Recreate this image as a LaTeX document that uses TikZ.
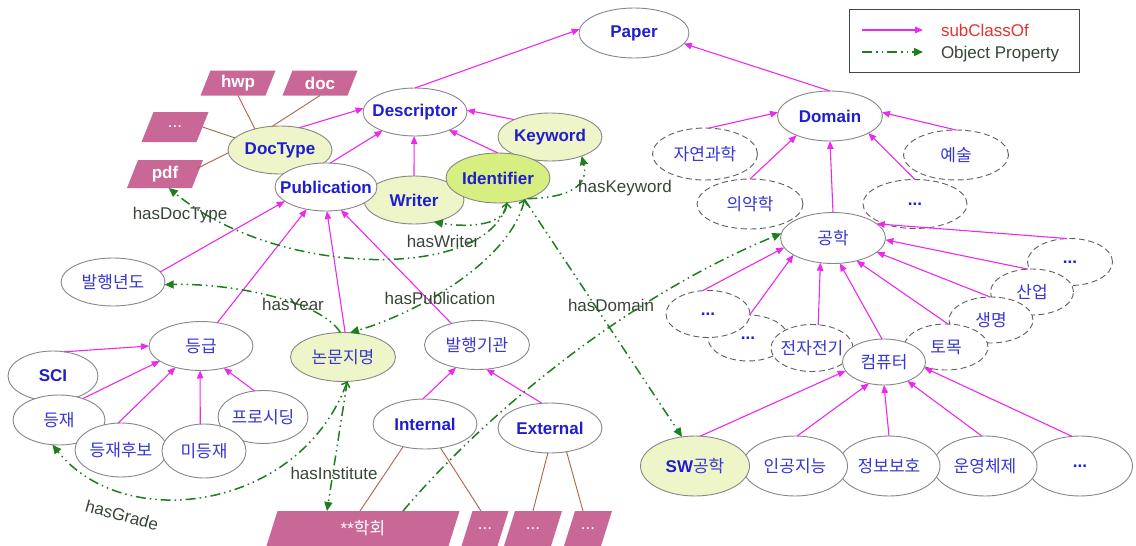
\documentclass[tikz,border=0pt]{standalone}
\usepackage{fontspec}
\setmainfont{Liberation Sans}
\newfontfamily\kr{Noto Sans CJK KR}
\usetikzlibrary{shapes.geometric,arrows.meta}
\definecolor{nodeblue}{RGB}{30,30,205}
\definecolor{koblue}{RGB}{55,55,210}
\definecolor{elgray}{RGB}{135,135,135}
\definecolor{dashgray}{RGB}{95,95,95}
\definecolor{yel}{RGB}{238,245,200}
\definecolor{idyel}{RGB}{214,239,128}
\definecolor{mag}{RGB}{238,40,238}
\definecolor{grn}{RGB}{30,125,30}
\definecolor{lblc}{RGB}{55,70,55}
\definecolor{pinkbox}{RGB}{201,104,150}
\definecolor{brownl}{RGB}{170,100,70}
\definecolor{legred}{RGB}{230,50,50}
\definecolor{leggray}{RGB}{70,70,70}
\newcommand{\mz}[1]{\makebox[0pt]{#1}}
% parallelogram: name, x, y, total width, height, slant, text
\newcommand{\pgram}[7]{%
  \fill[pinkbox] ({#2-#4/2},{#3+#5/2}) -- ({#2+#4/2-#6},{#3+#5/2}) -- ({#2+#4/2},{#3-#5/2}) -- ({#2-#4/2+#6},{#3-#5/2}) -- cycle;
  \node[ptext, minimum width=#4pt-#6pt, minimum height=#5pt] (#1) at (#2,#3) {\mz{#7}};}
\begin{document}
\begin{tikzpicture}[x=1pt,y=-1pt,
 every node/.style={inner sep=0pt,outer sep=0pt},
 elbase/.style={ellipse, draw=elgray, line width=0.9pt, fill=white},
 en/.style={elbase, font=\fontsize{17}{20}\selectfont\bfseries, text=nodeblue},
 ko/.style={elbase, font=\fontsize{17}{20}\selectfont\kr, text=koblue},
 dsh/.style={dash pattern=on 6pt off 3.5pt, draw=dashgray},
 yl/.style={fill=yel},
 sz/.style 2 args={minimum width=#1pt, minimum height=#2pt},
 ptext/.style={rectangle, text=white, font=\fontsize{17}{20}\selectfont},
 sub/.style={draw=mag, line width=1.1pt, -{Triangle[length=8pt,width=6.5pt]}},
 obj/.style={draw=grn, line width=1.5pt, dash pattern=on 10pt off 4pt on 1.5pt off 4pt on 1.5pt off 4pt, -{Triangle[length=9pt,width=8pt]}},
 chev/.style={{Straight Barb[length=4pt,width=9pt]}-{Triangle[length=9pt,width=8pt]}},
 brn/.style={draw=brownl, line width=0.9pt},
 lbl/.style={font=\fontsize{17}{20}\selectfont, text=lblc}]
\useasboundingbox (0,0) rectangle (1136,546);

% ---- top / left cluster
\node[en, sz={110}{50}] (paper) at (634,33) {\mz{Paper}};
\node[en, sz={104}{48}] (desc) at (415,112) {\mz{Descriptor}};
\node[en, yl, sz={104}{48}] (kw) at (550,137) {\mz{Keyword}};
\node[en, yl, sz={104}{48}] (doctype) at (280,150) {\mz{DocType}};
\node[en, yl, sz={100}{48}] (writer) at (414,200) {\mz{Writer}};
\node[en, fill=idyel, sz={104}{50}] (ident) at (498,178) {\mz{Identifier}};
\node[en, sz={102}{48}] (pub) at (326,187) {\mz{Publication}};

\pgram{hwp}{238}{83}{75}{25}{10}{\bfseries hwp}
\pgram{doc}{320}{83}{75}{25}{10}{\bfseries doc}
\pgram{dots1}{175}{127}{67}{30}{12}{...}
\pgram{pdf}{165}{174}{76}{28}{11}{\bfseries pdf}

\node[ko, sz={104}{48}] (year) at (113,282) {\mz{발행년도}};
\node[ko, sz={104}{49}] (grade) at (201,346) {\mz{등급}};
\node[en, sz={90}{50}] (sci) at (53,376) {\mz{SCI}};
\node[ko, sz={92}{50}] (reg) at (59,420) {\mz{등재}};
\node[ko, sz={92}{54}] (cand) at (121,450) {\mz{등재후보}};
\node[ko, sz={90}{53}] (proc) at (263,417) {\mz{프로시딩}};
\node[ko, sz={84}{54}] (unreg) at (204,451) {\mz{미등재}};
\node[ko, yl, sz={105}{49}] (journal) at (343,357) {\mz{논문지명}};
\node[ko, sz={105}{49}] (pubinst) at (477,345) {\mz{발행기관}};
\node[en, sz={104}{50}] (internal) at (425,424) {\mz{Internal}};
\node[en, sz={104}{50}] (external) at (550,428) {\mz{External}};

\pgram{soc}{363}{528.5}{193}{35}{11}{**{\kr 학회}}
\pgram{b2}{485}{528.5}{47}{35}{11}{...}
\pgram{b3}{533}{528.5}{58}{35}{11}{...}
\pgram{b4}{588}{528.5}{48}{35}{11}{...}

% ---- right cluster
\node[en, sz={105}{50}] (domain) at (830,116) {\mz{Domain}};
\node[ko, dsh, sz={105}{52}] (nat) at (705,154) {\mz{자연과학}};
\node[ko, dsh, sz={105}{50}] (art) at (956,155) {\mz{예술}};
\node[ko, dsh, sz={106}{50}] (med) at (750,204) {\mz{의약학}};
\node[en, dsh, sz={104}{49}] (dotsR1) at (915,204) {\mz{...}};
\node[ko, sz={105}{51}] (eng) at (833,238) {\mz{공학}};
\node[en, dsh, sz={85}{47}] (dotsR2) at (1070,262) {\mz{...}};
\node[ko, dsh, sz={83}{46}] (ind) at (1032,292) {\mz{산업}};
\node[ko, dsh, sz={84}{46}] (life) at (991,320) {\mz{생명}};
\node[ko, dsh, sz={84}{46}] (civil) at (946,347) {\mz{토목}};
\node[en, dsh, sz={80}{46}] (dotsL2) at (748,338) {\mz{...}};
\node[en, dsh, sz={84}{47}] (dotsL1) at (708,314) {\mz{...}};
\node[ko, dsh, sz={82}{47}] (elec) at (812,348) {\mz{전자전기}};
\node[ko, sz={83}{46}] (comp) at (884,362) {\mz{컴퓨터}};

\node[en, sz={105}{60}] (dotsB) at (1080,466) {\mz{...}};
\node[ko, sz={104}{60}] (os) at (985,466) {\mz{운영체제}};
\node[ko, sz={102}{60}] (sec) at (889,466) {\mz{정보보호}};
\node[ko, sz={105}{60}] (ai) at (795,466) {\mz{인공지능}};
\node[en, yl, sz={109}{60}] (sw) at (695,466) {\mz{SW{\kr\mdseries\color{koblue}공학}}};

% ---- subClassOf
\draw[sub] (desc.north) -- (paper.176);
\draw[sub] (domain.north) -- (paper.-12);
\draw[sub] (doctype.49) -- (desc.176);
\draw[sub] (pub.80) -- (desc.210);
\draw[sub] (writer.north) -- (desc.268);
\draw[sub] (ident.north) -- (desc.-28);
\draw[sub] (kw.154) -- (desc.2);
\draw[sub] (year.12) -- (pub.199);
\draw[sub] (grade.55) -- (pub.229);
\draw[sub] (journal.85) -- (pub.272);
\draw[sub] (pubinst.140) -- (pub.-57);
\draw[sub] (sci.65) -- (grade.west);
\draw[sub] (reg.42) -- (grade.200);
\draw[sub] (cand.96) -- (grade.220);
\draw[sub] (unreg.98) -- (grade.268);
\draw[sub] (proc.108) -- (grade.-44);
\draw[sub] (internal.95) -- (pubinst.227);
\draw[sub] (external.108) -- (pubinst.-69);
\draw[sub] (nat.81) -- (domain.176);
\draw[sub] (med.north) -- (domain.210);
\draw[sub] (eng.north) -- (domain.south);
\draw[sub] (dotsR1.north) -- (domain.-24);
\draw[sub] (art.north) -- (domain.4);
\draw[sub] (dotsR2.97) -- (eng.18);
\draw[sub] (ind.100) -- (eng.-2);
\draw[sub] (life.92) -- (eng.-18);
\draw[sub] (civil.85) -- (eng.-44);
\draw[sub] (comp.95) -- (eng.-75);
\draw[sub] (elec.75) -- (eng.243);
\draw[sub] (dotsL2.86) -- (eng.203);
\draw[sub] (dotsL1.103) -- (eng.191);
\draw[sub] (sw.80) -- (comp.193);
\draw[sub] (ai.86) -- (comp.235);
\draw[sub] (sec.north) -- (comp.south);
\draw[sub] (os.96) -- (comp.-39);
\draw[sub] (dotsB.105) -- (comp.-8);

% ---- plain links
\draw[brn] (hwp.south) -- (doctype.140);
\draw[brn] (doc.south) -- (doctype.108);
\draw[brn] (dots1.east) -- (doctype.165);
\draw[brn] (pdf.10) -- (doctype.183);
\draw[brn] (internal.226) -- ([xshift=-3pt]soc.north);
\draw[brn] (internal.-57) -- ([xshift=-4pt]b2.north);
\draw[brn] (external.-95) -- (b3.north);
\draw[brn] (external.-55) -- ([xshift=-5pt]b4.north);

% ---- object properties
\draw[obj] (ident.-70) .. controls (490,280) and (280,280) .. (pdf.-75);
\draw[obj,chev] (ident.-70) .. controls (505,225) and (470,228) .. (writer.-48);
\draw[obj] (ident.-35) .. controls (570,198) and (589,185) .. (kw.-31);
\draw[obj,chev] (ident.-39) .. controls (510,260) and (420,312) .. (journal.74);
\draw[obj] (ident.-39) -- (sw.114);
\draw[obj] (journal.96) .. controls (320,300) and (230,283) .. (year.-3);
\draw[obj,chev] (journal.-80) .. controls (300,510) and (125,535) .. (reg.255);
\draw[obj] (journal.-80) -- ([xshift=-36pt]soc.north);
\draw[obj] ([xshift=40pt]soc.north) .. controls (480,420) and (620,300) .. (eng.175);

% ---- labels
\node[lbl] (lDoc) at (180,215) {hasDocType};
\node[lbl] (lWri) at (443,241) {hasWriter};
\node[lbl] (lKey) at (625,188) {hasKeyword};
\node[lbl] (lYear) at (293,304) {hasYear};
\node[lbl] (lPub) at (440,298) {hasPublication};
\node[lbl] (lDom) at (611,305) {hasDomain};
\node[lbl] (lInst) at (334,473) {hasInstitute};
\node[lbl, rotate=-15] (lGrade) at (122,515) {hasGrade};

% ---- legend
\node[draw=leggray, line width=1pt, fill=white, minimum width=230pt, minimum height=63pt] (legend) at (964,40.5) {};
\coordinate (l1a) at (862,30); \coordinate (l1b) at (923,30);
\coordinate (l2a) at (862,52); \coordinate (l2b) at (923,52);
\draw[sub] (l1a) -- (l1b);
\draw[obj] (l2a) -- (l2b);
\node[anchor=base west, font=\fontsize{17}{20}\selectfont, text=legred] (lsub) at (941,36) {subClassOf};
\node[anchor=base west, font=\fontsize{17}{20}\selectfont, text=lblc] (lobj) at (941,58) {Object Property};
\end{tikzpicture}
\end{document}
